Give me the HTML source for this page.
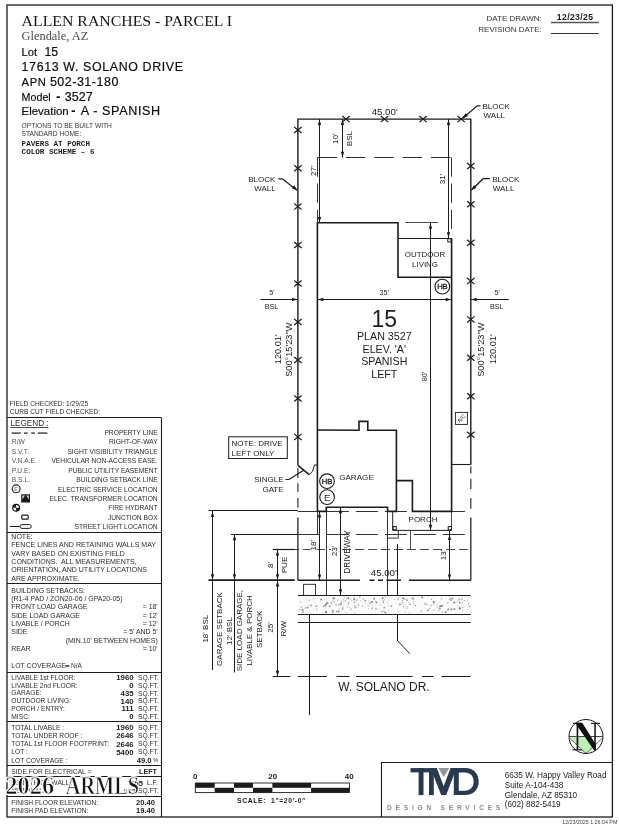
<!DOCTYPE html>
<html><head><meta charset="utf-8"><title>Plot Plan</title>
<style>
html,body{margin:0;padding:0;background:#fff;}
body{width:619px;height:824px;overflow:hidden;}
svg{display:block;will-change:transform;filter:blur(0.35px);}
text{font-family:"Liberation Sans",sans-serif;fill:#1c1c1c;}
</style></head><body>
<svg width="619" height="824" viewBox="0 0 619 824">
<rect x="7" y="5" width="605.4" height="812" fill="none" stroke="#1c1c1c" stroke-width="1.3"/>
<text x="21.6" y="26.00" font-size="15.6" style="font-family:Liberation Serif;fill:#161616;" textLength="210.5" lengthAdjust="spacingAndGlyphs">ALLEN RANCHES - PARCEL I</text>
<text x="21.6" y="40.40" font-size="12.4" style="font-family:Liberation Serif;fill:#4a4a4a;">Glendale, AZ</text>
<text x="21.6" y="55.6" font-size="11.2" style="fill:#0c0c0c;stroke:#0c0c0c;stroke-width:0.18px">Lot <tspan x="44.4" font-size="12.2">15</tspan></text>
<text x="21.6" y="71.1" font-size="12.4" letter-spacing="0.63" style="fill:#0c0c0c;stroke:#0c0c0c;stroke-width:0.18px">17613 W. SOLANO DRIVE</text>
<text x="21.6" y="85.6" font-size="11.2" letter-spacing="0.6" style="fill:#0c0c0c;stroke:#0c0c0c;stroke-width:0.18px">APN <tspan x="49.9" font-size="12.5" letter-spacing="0.5">502-31-180</tspan></text>
<text x="21.6" y="100.5" font-size="10.7"  style="fill:#0c0c0c;stroke:#0c0c0c;stroke-width:0.18px">Model<tspan x="56.2" font-weight="bold" font-size="12.6">-</tspan><tspan x="64.8" font-size="12.5">3527</tspan></text>
<text x="21.6" y="115.2" font-size="11.45" style="fill:#0c0c0c;stroke:#0c0c0c;stroke-width:0.18px">Elevation<tspan x="71.3" font-weight="bold" font-size="12.6">-</tspan><tspan x="80.7" font-size="12.6" letter-spacing="0.62">A - SPANISH</tspan></text>
<text x="21.6" y="127.78" font-size="6.65" style="fill:#333;">OPTIONS TO BE BUILT WITH</text>
<text x="21.6" y="136.38" font-size="6.65" style="fill:#333;">STANDARD HOME:</text>
<text x="21.6" y="145.62" font-size="7.6" font-weight="bold" style="font-family:Liberation Mono;">PAVERS AT PORCH</text>
<text x="21.6" y="153.92" font-size="7.6" font-weight="bold" style="font-family:Liberation Mono;">COLOR SCHEME – 6</text>
<text x="541.7" y="20.86" font-size="8" text-anchor="end" style="fill:#333;">DATE DRAWN:</text>
<text x="541.7" y="32.36" font-size="8" text-anchor="end" style="fill:#333;">REVISION DATE:</text>
<text x="556.8" y="20.41" font-size="8.7" font-weight="bold" textLength="36.2" lengthAdjust="spacing">12/23/25</text>
<line x1="551" y1="22.5" x2="598.8" y2="22.5" stroke="#555" stroke-width="1.3"/>
<line x1="551" y1="33.5" x2="598.8" y2="33.5" stroke="#1c1c1c" stroke-width="0.9"/>
<line x1="161.5" y1="417.5" x2="161.5" y2="817" stroke="#1c1c1c" stroke-width="1.1"/>
<line x1="7" y1="417.5" x2="161.2" y2="417.5" stroke="#1c1c1c" stroke-width="1.1"/>
<line x1="7" y1="532.5" x2="161.2" y2="532.5" stroke="#1c1c1c" stroke-width="1.1"/>
<line x1="7" y1="583.5" x2="161.2" y2="583.5" stroke="#1c1c1c" stroke-width="1.1"/>
<line x1="7" y1="672.5" x2="161.2" y2="672.5" stroke="#1c1c1c" stroke-width="1.1"/>
<line x1="7" y1="721.5" x2="161.2" y2="721.5" stroke="#1c1c1c" stroke-width="1.1"/>
<line x1="7" y1="765.5" x2="161.2" y2="765.5" stroke="#1c1c1c" stroke-width="1.1"/>
<line x1="7" y1="776.5" x2="161.2" y2="776.5" stroke="#1c1c1c" stroke-width="1.1"/>
<line x1="7" y1="796.5" x2="161.2" y2="796.5" stroke="#1c1c1c" stroke-width="1.1"/>
<text x="9.7" y="406.26" font-size="6.6" style="fill:#2e2e2e;">FIELD CHECKED: 1/29/25</text>
<text x="9.7" y="413.96" font-size="6.6" style="fill:#2e2e2e;">CURB CUT FIELD CHECKED:</text>
<text x="10.4" y="426.00" font-size="8.2" style="fill:#2e2e2e;">LEGEND :</text>
<line x1="10.4" y1="427.5" x2="48.4" y2="427.5" stroke="#1c1c1c" stroke-width="0.8"/>
<text x="157.7" y="434.70" font-size="6.7" text-anchor="end" style="fill:#2e2e2e;">PROPERTY LINE</text>
<text x="11.8" y="444.10" font-size="6.7" style="fill:#555;">R/W</text>
<text x="157.7" y="444.10" font-size="6.7" text-anchor="end" style="fill:#2e2e2e;">RIGHT-OF-WAY</text>
<text x="11.8" y="453.50" font-size="6.7" style="fill:#555;">S.V.T.</text>
<text x="157.7" y="453.50" font-size="6.7" text-anchor="end" style="fill:#2e2e2e;">SIGHT VISIBILITY TRIANGLE</text>
<text x="11.8" y="462.90" font-size="6.7" style="fill:#555;">V.N.A.E.</text>
<text x="157.7" y="462.90" font-size="6.7" text-anchor="end" style="fill:#2e2e2e;">VEHICULAR NON-ACCESS EASE.</text>
<text x="11.8" y="472.50" font-size="6.7" style="fill:#555;">P.U.E.</text>
<text x="157.7" y="472.50" font-size="6.7" text-anchor="end" style="fill:#2e2e2e;">PUBLIC UTILITY EASEMENT</text>
<text x="11.8" y="481.90" font-size="6.7" style="fill:#555;">B.S.L.</text>
<text x="157.7" y="481.90" font-size="6.7" text-anchor="end" style="fill:#2e2e2e;">BUILDING SETBACK LINE</text>
<text x="157.7" y="491.50" font-size="6.7" text-anchor="end" style="fill:#2e2e2e;">ELECTRIC SERVICE LOCATION</text>
<text x="157.7" y="501.00" font-size="6.7" text-anchor="end" style="fill:#2e2e2e;">ELEC. TRANSFORMER LOCATION</text>
<text x="157.7" y="510.30" font-size="6.7" text-anchor="end" style="fill:#2e2e2e;">FIRE HYDRANT</text>
<text x="157.7" y="519.70" font-size="6.7" text-anchor="end" style="fill:#2e2e2e;">JUNCTION BOX</text>
<text x="157.7" y="529.40" font-size="6.7" text-anchor="end" style="fill:#2e2e2e;">STREET LIGHT LOCATION</text>
<line x1="11.6" y1="433.1" x2="20.7" y2="433.1" stroke="#444" stroke-width="1.5"/>
<line x1="23.9" y1="433.1" x2="27.6" y2="433.1" stroke="#444" stroke-width="1.5"/>
<line x1="31.2" y1="433.1" x2="34.9" y2="433.1" stroke="#444" stroke-width="1.5"/>
<line x1="37.8" y1="433.1" x2="47.3" y2="433.1" stroke="#444" stroke-width="1.5"/>
<circle cx="16.1" cy="488.8" r="3.9" fill="none" stroke="#1c1c1c" stroke-width="1.1"/>
<text x="16.1" y="490.76" font-size="5.2" text-anchor="middle" font-weight="bold" style="fill:#888;">E</text>
<rect x="21.2" y="494.3" width="8.8" height="8.2" fill="#1c1c1c"/>
<path d="M22.4 495.4 H24.9 L22.4 499.4 Z M28.8 495.4 H26.3 L28.8 499.4 Z" fill="#ddd"/>
<circle cx="16.1" cy="507.8" r="3.4" fill="#fff" stroke="#1c1c1c" stroke-width="1.1"/>
<path d="M16.1 507.8 L16.1 504.4 A3.4 3.4 0 0 0 12.7 507.8 Z M16.1 507.8 L16.1 511.2 A3.4 3.4 0 0 0 19.5 507.8 Z" fill="#1c1c1c"/>
<rect x="21.8" y="515.2" width="6.4" height="4" rx="1" fill="none" stroke="#1c1c1c" stroke-width="1.2"/>
<line x1="9.9" y1="526.5" x2="19.6" y2="526.5" stroke="#1c1c1c" stroke-width="1.0"/>
<rect x="19.9" y="524.6" width="11.4" height="3.8" rx="1.9" fill="none" stroke="#1c1c1c" stroke-width="1.0"/>
<text x="11.3" y="538.92" font-size="7.05" style="fill:#2e2e2e;" xml:space="preserve">NOTE:</text>
<text x="11.3" y="547.32" font-size="7.05" style="fill:#2e2e2e;" xml:space="preserve">FENCE LINES AND RETAINING WALLS MAY</text>
<text x="11.3" y="555.72" font-size="7.05" style="fill:#2e2e2e;" xml:space="preserve">VARY BASED ON EXISTING FIELD</text>
<text x="11.3" y="563.82" font-size="7.05" style="fill:#2e2e2e;" xml:space="preserve">CONDITIONS.  ALL MEASUREMENTS,</text>
<text x="11.3" y="572.12" font-size="7.05" style="fill:#2e2e2e;" xml:space="preserve">ORIENTATION, AND UTILITY LOCATIONS</text>
<text x="11.3" y="580.52" font-size="7.05" style="fill:#2e2e2e;" xml:space="preserve">ARE APPROXIMATE.</text>
<text x="11.3" y="592.79" font-size="6.95" style="fill:#2e2e2e;">BUILDING SETBACKS:</text>
<text x="11.3" y="601.19" font-size="6.95" style="fill:#2e2e2e;">(R1-4 PAD / ZON20-06 / GPA20-05)</text>
<text x="11.3" y="609.29" font-size="6.95" style="fill:#2e2e2e;">FRONT LOAD GARAGE</text>
<text x="157.7" y="609.29" font-size="6.95" text-anchor="end" style="fill:#2e2e2e;">= 18'</text>
<text x="11.3" y="617.69" font-size="6.95" style="fill:#2e2e2e;">SIDE LOAD GARAGE</text>
<text x="157.7" y="617.69" font-size="6.95" text-anchor="end" style="fill:#2e2e2e;">= 12'</text>
<text x="11.3" y="626.09" font-size="6.95" style="fill:#2e2e2e;">LIVABLE / PORCH</text>
<text x="157.7" y="626.09" font-size="6.95" text-anchor="end" style="fill:#2e2e2e;">= 12'</text>
<text x="11.3" y="634.49" font-size="6.95" style="fill:#2e2e2e;">SIDE</text>
<text x="157.7" y="634.49" font-size="6.95" text-anchor="end" style="fill:#2e2e2e;">= 5' AND 5'</text>
<text x="157.7" y="642.89" font-size="6.95" text-anchor="end" style="fill:#2e2e2e;">(MIN.10' BETWEEN HOMES)</text>
<text x="11.3" y="651.29" font-size="6.95" style="fill:#2e2e2e;">REAR</text>
<text x="157.7" y="651.29" font-size="6.95" text-anchor="end" style="fill:#2e2e2e;">= 10'</text>
<text x="11.3" y="668.49" font-size="6.95" style="fill:#2e2e2e;">LOT COVERAGE</text>
<rect x="65.4" y="665.3" width="4" height="1.4" fill="#222"/>
<text x="71" y="668.36" font-size="6.6" style="fill:#2e2e2e;">N/A</text>
<text x="11.3" y="679.69" font-size="6.68" style="fill:#2e2e2e;">LIVABLE 1st FLOOR:</text>
<text x="133.6" y="680.09" font-size="7.8" text-anchor="end" font-weight="bold">1960</text>
<text x="138" y="679.70" font-size="6.7" style="fill:#2e2e2e;">SQ.FT.</text>
<text x="11.3" y="687.69" font-size="6.68" style="fill:#2e2e2e;">LIVABLE 2nd FLOOR:</text>
<text x="133.6" y="688.09" font-size="7.8" text-anchor="end" font-weight="bold">0</text>
<text x="138" y="687.70" font-size="6.7" style="fill:#2e2e2e;">SQ.FT.</text>
<text x="11.3" y="695.49" font-size="6.68" style="fill:#2e2e2e;">GARAGE:</text>
<text x="133.6" y="695.89" font-size="7.8" text-anchor="end" font-weight="bold">435</text>
<text x="138" y="695.50" font-size="6.7" style="fill:#2e2e2e;">SQ.FT.</text>
<text x="11.3" y="703.19" font-size="6.68" style="fill:#2e2e2e;">OUTDOOR LIVING:</text>
<text x="133.6" y="703.59" font-size="7.8" text-anchor="end" font-weight="bold">140</text>
<text x="138" y="703.20" font-size="6.7" style="fill:#2e2e2e;">SQ.FT.</text>
<text x="11.3" y="710.99" font-size="6.68" style="fill:#2e2e2e;">PORCH / ENTRY:</text>
<text x="133.6" y="711.39" font-size="7.8" text-anchor="end" font-weight="bold">111</text>
<text x="138" y="711.00" font-size="6.7" style="fill:#2e2e2e;">SQ.FT.</text>
<text x="11.3" y="718.69" font-size="6.68" style="fill:#2e2e2e;">MISC:</text>
<text x="133.6" y="719.09" font-size="7.8" text-anchor="end" font-weight="bold">0</text>
<text x="138" y="718.70" font-size="6.7" style="fill:#2e2e2e;">SQ.FT.</text>
<text x="11.3" y="729.69" font-size="6.68" style="fill:#2e2e2e;">TOTAL LIVABLE :</text>
<text x="133.6" y="730.09" font-size="7.8" text-anchor="end" font-weight="bold">1960</text>
<text x="138" y="729.70" font-size="6.7" style="fill:#2e2e2e;">SQ.FT.</text>
<text x="11.3" y="737.79" font-size="6.68" style="fill:#2e2e2e;">TOTAL UNDER ROOF :</text>
<text x="133.6" y="738.19" font-size="7.8" text-anchor="end" font-weight="bold">2646</text>
<text x="138" y="737.80" font-size="6.7" style="fill:#2e2e2e;">SQ.FT.</text>
<text x="11.3" y="746.19" font-size="6.68" style="fill:#2e2e2e;">TOTAL 1st FLOOR FOOTPRINT:</text>
<text x="133.6" y="746.59" font-size="7.8" text-anchor="end" font-weight="bold">2646</text>
<text x="138" y="746.20" font-size="6.7" style="fill:#2e2e2e;">SQ.FT.</text>
<text x="11.3" y="754.29" font-size="6.68" style="fill:#2e2e2e;">LOT :</text>
<text x="133.6" y="754.69" font-size="7.8" text-anchor="end" font-weight="bold">5400</text>
<text x="138" y="754.30" font-size="6.7" style="fill:#2e2e2e;">SQ.FT.</text>
<text x="11.3" y="762.69" font-size="6.68" style="fill:#2e2e2e;">LOT COVERAGE :</text>
<text x="151.5" y="763.02" font-size="7.6" text-anchor="end" font-weight="bold">49.0</text>
<text x="153.2" y="762.27" font-size="5.5" style="fill:#2e2e2e;">%</text>
<text x="11.3" y="773.99" font-size="6.68" style="fill:#2e2e2e;">SIDE FOR ELECTRICAL =</text>
<text x="157" y="774.18" font-size="7.2" text-anchor="end" font-weight="bold">LEFT</text>
<text x="11.3" y="785.29" font-size="6.68" style="fill:#2e2e2e;">LENGTH OF WALL :</text>
<text x="143" y="785.62" font-size="7.6" text-anchor="end" font-weight="bold">255</text>
<text x="147" y="785.30" font-size="6.7" style="fill:#2e2e2e;">L.F.</text>
<text x="11.3" y="793.39" font-size="6.68" style="fill:#2e2e2e;">NEW WALL :</text>
<text x="136" y="793.72" font-size="7.6" text-anchor="end" font-weight="bold">382</text>
<text x="138" y="793.40" font-size="6.7" style="fill:#2e2e2e;">SQ.FT.</text>
<text x="11.3" y="804.69" font-size="6.68" style="fill:#2e2e2e;">FINISH FLOOR ELEVATION:</text>
<text x="155" y="805.02" font-size="7.6" text-anchor="end" font-weight="bold">20.40</text>
<text x="11.3" y="812.79" font-size="6.68" style="fill:#2e2e2e;">FINISH PAD ELEVATION:</text>
<text x="155" y="813.12" font-size="7.6" text-anchor="end" font-weight="bold">19.40</text>
<path d="M297.9 465.3 L297.9 119.1 L470.8 119.1 L470.8 464.4" stroke="#1c1c1c" stroke-width="1.4" fill="none" stroke-linejoin="miter"/>
<line x1="297.9" y1="468.2" x2="297.9" y2="477.9" stroke="#444" stroke-width="1.31"/>
<line x1="297.9" y1="483.2" x2="297.9" y2="492" stroke="#444" stroke-width="1.31"/>
<line x1="297.9" y1="498.1" x2="297.9" y2="507.8" stroke="#444" stroke-width="1.31"/>
<line x1="297.9" y1="517.5" x2="297.9" y2="580.2" stroke="#2a2a2a" stroke-width="1.35"/>
<line x1="470.8" y1="466.4" x2="470.8" y2="473.5" stroke="#444" stroke-width="1.31"/>
<line x1="470.8" y1="478.8" x2="470.8" y2="489.3" stroke="#444" stroke-width="1.31"/>
<line x1="470.8" y1="498.1" x2="470.8" y2="508.7" stroke="#444" stroke-width="1.31"/>
<line x1="470.8" y1="517.5" x2="470.8" y2="580.2" stroke="#2a2a2a" stroke-width="1.35"/>
<line x1="297.9" y1="580.2" x2="360" y2="580.2" stroke="#1c1c1c" stroke-width="1.35"/>
<line x1="369.5" y1="580.2" x2="401" y2="580.2" stroke="#1c1c1c" stroke-width="1.35" stroke-dasharray="5 3.5 5 3.5 30 0"/>
<line x1="409" y1="580.2" x2="470.8" y2="580.2" stroke="#1c1c1c" stroke-width="1.35"/>
<line x1="342.3" y1="116.06599999999999" x2="349.7" y2="122.134" stroke="#1c1c1c" stroke-width="1.25"/>
<line x1="342.3" y1="122.134" x2="349.7" y2="116.06599999999999" stroke="#1c1c1c" stroke-width="1.25"/>
<line x1="380.8" y1="116.06599999999999" x2="388.2" y2="122.134" stroke="#1c1c1c" stroke-width="1.25"/>
<line x1="380.8" y1="122.134" x2="388.2" y2="116.06599999999999" stroke="#1c1c1c" stroke-width="1.25"/>
<line x1="419.3" y1="116.06599999999999" x2="426.7" y2="122.134" stroke="#1c1c1c" stroke-width="1.25"/>
<line x1="419.3" y1="122.134" x2="426.7" y2="116.06599999999999" stroke="#1c1c1c" stroke-width="1.25"/>
<line x1="457.5" y1="116.06599999999999" x2="464.9" y2="122.134" stroke="#1c1c1c" stroke-width="1.25"/>
<line x1="457.5" y1="122.134" x2="464.9" y2="116.06599999999999" stroke="#1c1c1c" stroke-width="1.25"/>
<line x1="294.2" y1="126.966" x2="301.59999999999997" y2="133.034" stroke="#1c1c1c" stroke-width="1.25"/>
<line x1="294.2" y1="133.034" x2="301.59999999999997" y2="126.966" stroke="#1c1c1c" stroke-width="1.25"/>
<line x1="294.2" y1="165.26600000000002" x2="301.59999999999997" y2="171.334" stroke="#1c1c1c" stroke-width="1.25"/>
<line x1="294.2" y1="171.334" x2="301.59999999999997" y2="165.26600000000002" stroke="#1c1c1c" stroke-width="1.25"/>
<line x1="294.2" y1="203.566" x2="301.59999999999997" y2="209.634" stroke="#1c1c1c" stroke-width="1.25"/>
<line x1="294.2" y1="209.634" x2="301.59999999999997" y2="203.566" stroke="#1c1c1c" stroke-width="1.25"/>
<line x1="294.2" y1="241.966" x2="301.59999999999997" y2="248.034" stroke="#1c1c1c" stroke-width="1.25"/>
<line x1="294.2" y1="248.034" x2="301.59999999999997" y2="241.966" stroke="#1c1c1c" stroke-width="1.25"/>
<line x1="294.2" y1="280.466" x2="301.59999999999997" y2="286.534" stroke="#1c1c1c" stroke-width="1.25"/>
<line x1="294.2" y1="286.534" x2="301.59999999999997" y2="280.466" stroke="#1c1c1c" stroke-width="1.25"/>
<line x1="294.2" y1="318.966" x2="301.59999999999997" y2="325.034" stroke="#1c1c1c" stroke-width="1.25"/>
<line x1="294.2" y1="325.034" x2="301.59999999999997" y2="318.966" stroke="#1c1c1c" stroke-width="1.25"/>
<line x1="294.2" y1="356.966" x2="301.59999999999997" y2="363.034" stroke="#1c1c1c" stroke-width="1.25"/>
<line x1="294.2" y1="363.034" x2="301.59999999999997" y2="356.966" stroke="#1c1c1c" stroke-width="1.25"/>
<line x1="294.2" y1="395.466" x2="301.59999999999997" y2="401.534" stroke="#1c1c1c" stroke-width="1.25"/>
<line x1="294.2" y1="401.534" x2="301.59999999999997" y2="395.466" stroke="#1c1c1c" stroke-width="1.25"/>
<line x1="294.2" y1="433.866" x2="301.59999999999997" y2="439.93399999999997" stroke="#1c1c1c" stroke-width="1.25"/>
<line x1="294.2" y1="439.93399999999997" x2="301.59999999999997" y2="433.866" stroke="#1c1c1c" stroke-width="1.25"/>
<line x1="467.1" y1="162.966" x2="474.5" y2="169.034" stroke="#1c1c1c" stroke-width="1.25"/>
<line x1="467.1" y1="169.034" x2="474.5" y2="162.966" stroke="#1c1c1c" stroke-width="1.25"/>
<line x1="467.1" y1="201.26600000000002" x2="474.5" y2="207.334" stroke="#1c1c1c" stroke-width="1.25"/>
<line x1="467.1" y1="207.334" x2="474.5" y2="201.26600000000002" stroke="#1c1c1c" stroke-width="1.25"/>
<line x1="467.1" y1="239.76600000000002" x2="474.5" y2="245.834" stroke="#1c1c1c" stroke-width="1.25"/>
<line x1="467.1" y1="245.834" x2="474.5" y2="239.76600000000002" stroke="#1c1c1c" stroke-width="1.25"/>
<line x1="467.1" y1="278.06600000000003" x2="474.5" y2="284.134" stroke="#1c1c1c" stroke-width="1.25"/>
<line x1="467.1" y1="284.134" x2="474.5" y2="278.06600000000003" stroke="#1c1c1c" stroke-width="1.25"/>
<line x1="467.1" y1="316.366" x2="474.5" y2="322.43399999999997" stroke="#1c1c1c" stroke-width="1.25"/>
<line x1="467.1" y1="322.43399999999997" x2="474.5" y2="316.366" stroke="#1c1c1c" stroke-width="1.25"/>
<line x1="467.1" y1="354.666" x2="474.5" y2="360.734" stroke="#1c1c1c" stroke-width="1.25"/>
<line x1="467.1" y1="360.734" x2="474.5" y2="354.666" stroke="#1c1c1c" stroke-width="1.25"/>
<line x1="467.1" y1="393.166" x2="474.5" y2="399.234" stroke="#1c1c1c" stroke-width="1.25"/>
<line x1="467.1" y1="399.234" x2="474.5" y2="393.166" stroke="#1c1c1c" stroke-width="1.25"/>
<line x1="467.1" y1="431.766" x2="474.5" y2="437.834" stroke="#1c1c1c" stroke-width="1.25"/>
<line x1="467.1" y1="437.834" x2="474.5" y2="431.766" stroke="#1c1c1c" stroke-width="1.25"/>
<line x1="317.4" y1="157.5" x2="451.6" y2="157.5" stroke="#1c1c1c" stroke-width="0.9" stroke-dasharray="19.6 8.8"/>
<line x1="317.5" y1="157.5" x2="317.5" y2="222" stroke="#1c1c1c" stroke-width="0.9" stroke-dasharray="19.3 6.8"/>
<line x1="451.5" y1="157.5" x2="451.5" y2="230.6" stroke="#1c1c1c" stroke-width="0.9" stroke-dasharray="19.3 6.8"/>
<line x1="317.5" y1="511.5" x2="317.5" y2="534" stroke="#1c1c1c" stroke-width="0.9"/>
<path d="M317.4 511.4 L317.4 222.8 L398 222.8 L398 238.3 M451.6 238.3 L451.6 511.4 L412.4 511.4 L412.4 480.6 L396.4 480.6" stroke="#1c1c1c" stroke-width="1.6" fill="none" stroke-linejoin="miter"/>
<path d="M398 238.3 L398 277.2 L451.6 277.2" stroke="#1c1c1c" stroke-width="1.6" fill="none" stroke-linejoin="miter"/>
<line x1="398" y1="238.5" x2="451.6" y2="238.5" stroke="#1c1c1c" stroke-width="1.0"/>
<path d="M317.4 430 L359 430.2 L359 421.4 L367.8 421.4 L367.8 430.2 L396.4 430.2 L396.4 511.4 L387.6 511.4 L387.6 507.2 L326.3 507.2 L326.3 511.4 L317.4 511.4" stroke="#1c1c1c" stroke-width="1.6" fill="none" stroke-linejoin="miter"/>
<line x1="451.6" y1="464.5" x2="470.8" y2="464.5" stroke="#1c1c1c" stroke-width="1.1"/>
<rect x="447.79999999999995" y="238.70000000000002" width="3.2" height="3.2" fill="#fff" stroke="#1c1c1c" stroke-width="1"/>
<rect x="393.09999999999997" y="526.6" width="3.2" height="3.2" fill="#fff" stroke="#1c1c1c" stroke-width="1"/>
<rect x="448.2" y="526.6" width="3.2" height="3.2" fill="#fff" stroke="#1c1c1c" stroke-width="1"/>
<path d="M392.7 511.4 L392.7 530.4 L451.6 530.4" stroke="#1c1c1c" stroke-width="1.0" fill="none" stroke-linejoin="miter"/>
<line x1="451.5" y1="511.4" x2="451.5" y2="530.4" stroke="#1c1c1c" stroke-width="0.8"/>
<path d="M398.3 530.4 L398.3 538.1 L387.8 538.1" stroke="#333" stroke-width="1.0" fill="none" stroke-linejoin="miter"/>
<line x1="410.5" y1="530.4" x2="410.5" y2="549.2" stroke="#1c1c1c" stroke-width="0.8"/>
<line x1="397.5" y1="544" x2="397.5" y2="641" stroke="#1c1c1c" stroke-width="1.0"/>
<line x1="397.8" y1="641" x2="409.8" y2="653.7" stroke="#1c1c1c" stroke-width="1.0"/>
<line x1="326.5" y1="507.2" x2="326.5" y2="595" stroke="#1c1c1c" stroke-width="0.9"/>
<line x1="387.5" y1="511.4" x2="387.5" y2="595" stroke="#1c1c1c" stroke-width="0.9"/>
<line x1="297.9" y1="511.5" x2="470.8" y2="511.5" stroke="#1c1c1c" stroke-width="0.9" stroke-dasharray="22 7"/>
<line x1="297.9" y1="534.5" x2="470.8" y2="534.5" stroke="#1c1c1c" stroke-width="0.9" stroke-dasharray="22 7"/>
<line x1="277" y1="549.5" x2="470.8" y2="549.5" stroke="#1c1c1c" stroke-width="0.8" stroke-dasharray="9 4"/>
<path d="M297.9 465.3 L309.2 474.6" stroke="#1c1c1c" stroke-width="1.5" fill="none" stroke-linejoin="miter"/>
<path d="M309.2 474.6 Q313.5 472 314 466.5 L314.3 465 L317.4 465" stroke="#1c1c1c" stroke-width="1.0" fill="none" stroke-linejoin="miter"/>
<rect x="455.4" y="412.4" width="12" height="12" fill="#fff" stroke="#1c1c1c" stroke-width="0.9"/>
<text transform="translate(461.4 418.4) rotate(-45)" x="0" y="2.00" font-size="5.6" text-anchor="middle" style="fill:#2a2a2a;">A/C</text>
<circle cx="442.3" cy="286.6" r="7.35" fill="#fff" stroke="#1c1c1c" stroke-width="1.1"/>
<text x="442.3" y="289.36" font-size="7.7" text-anchor="middle" letter-spacing="-0.2" stroke="#1c1c1c" stroke-width="0.3">HB</text>
<circle cx="327" cy="481.2" r="7.35" fill="#fff" stroke="#1c1c1c" stroke-width="1.1"/>
<text x="327" y="483.96" font-size="7.7" text-anchor="middle" letter-spacing="-0.2" stroke="#1c1c1c" stroke-width="0.3">HB</text>
<circle cx="327.1" cy="497.1" r="7.35" fill="#fff" stroke="#1c1c1c" stroke-width="1.1"/>
<text x="327.1" y="500.50" font-size="9.5" text-anchor="middle">E</text>
<line x1="405.3" y1="222.5" x2="438.1" y2="222.5" stroke="#1c1c1c" stroke-width="0.8"/>
<text x="384.7" y="115.47" font-size="9.7" text-anchor="middle">45.00'</text>
<line x1="342.5" y1="119.1" x2="342.5" y2="157.5" stroke="#1c1c1c" stroke-width="1.0"/>
<polygon points="342.5,119.7 340.8,125.1 344.2,125.1" fill="#1c1c1c"/>
<polygon points="342.5,157.2 340.8,151.8 344.2,151.8" fill="#1c1c1c"/>
<text transform="translate(335.3 138.6) rotate(-90)" x="0" y="2.90" font-size="8.1" text-anchor="middle">10'</text>
<text transform="translate(348.9 138.6) rotate(-90)" x="0" y="2.90" font-size="8.1" text-anchor="middle">BSL</text>
<line x1="319.5" y1="119.1" x2="319.5" y2="222.8" stroke="#1c1c1c" stroke-width="1.0"/>
<polygon points="319.5,119.7 317.8,125.1 321.2,125.1" fill="#1c1c1c"/>
<polygon points="319.5,222.4 317.8,217.0 321.2,217.0" fill="#1c1c1c"/>
<text transform="translate(313.3 170.8) rotate(-90)" x="0" y="2.90" font-size="8.1" text-anchor="middle">27'</text>
<line x1="448.5" y1="119.1" x2="448.5" y2="238" stroke="#1c1c1c" stroke-width="1.0"/>
<polygon points="448.5,119.7 446.8,125.1 450.2,125.1" fill="#1c1c1c"/>
<polygon points="448.5,237.6 446.8,232.2 450.2,232.2" fill="#1c1c1c"/>
<text transform="translate(441.8 179) rotate(-90)" x="0" y="2.90" font-size="8.1" text-anchor="middle">31'</text>
<line x1="317.4" y1="299.5" x2="451.6" y2="299.5" stroke="#1c1c1c" stroke-width="1.0"/>
<polygon points="317.9,299.5 323.3,297.8 323.3,301.2" fill="#1c1c1c"/>
<polygon points="451.1,299.5 445.7,297.8 445.7,301.2" fill="#1c1c1c"/>
<text x="384.3" y="295.38" font-size="7.2" text-anchor="middle">35'</text>
<line x1="260.4" y1="299.5" x2="297.9" y2="299.5" stroke="#1c1c1c" stroke-width="1.0"/>
<polygon points="297.4,299.5 292.0,297.8 292.0,301.2" fill="#1c1c1c"/>
<text x="272" y="294.98" font-size="7.2" text-anchor="middle">5'</text>
<text x="271.5" y="308.78" font-size="7.2" text-anchor="middle">BSL</text>
<line x1="470.8" y1="299.5" x2="508.8" y2="299.5" stroke="#1c1c1c" stroke-width="1.0"/>
<polygon points="471.3,299.5 476.7,297.8 476.7,301.2" fill="#1c1c1c"/>
<text x="497.2" y="294.98" font-size="7.2" text-anchor="middle">5'</text>
<text x="496.8" y="308.78" font-size="7.2" text-anchor="middle">BSL</text>
<text transform="translate(278.2 349.3) rotate(-90)" x="0" y="3.29" font-size="9.2" text-anchor="middle">120.01'</text>
<text transform="translate(288.9 349.7) rotate(-90)" x="0" y="3.29" font-size="9.2" text-anchor="middle">S00°15'23"W</text>
<text transform="translate(481.1 349.7) rotate(-90)" x="0" y="3.29" font-size="9.2" text-anchor="middle">S00°15'23"W</text>
<text transform="translate(492.3 349.3) rotate(-90)" x="0" y="3.29" font-size="9.2" text-anchor="middle">120.01'</text>
<line x1="430.5" y1="222.8" x2="430.5" y2="530.2" stroke="#1c1c1c" stroke-width="1.0"/>
<polygon points="430.5,223.3 428.8,228.7 432.2,228.7" fill="#1c1c1c"/>
<polygon points="430.5,530.2 428.8,524.8 432.2,524.8" fill="#1c1c1c"/>
<text transform="translate(424.4 376.5) rotate(-90)" x="0" y="2.58" font-size="7.2" text-anchor="middle">80'</text>
<text x="384.3" y="326.63" font-size="23" text-anchor="middle">15</text>
<text x="384.3" y="339.63" font-size="10.7" text-anchor="middle">PLAN 3527</text>
<text x="384.3" y="352.73" font-size="10.7" text-anchor="middle">ELEV. 'A'</text>
<text x="384.3" y="365.33" font-size="10.7" text-anchor="middle">SPANISH</text>
<text x="384.3" y="378.33" font-size="10.7" text-anchor="middle">LEFT</text>
<text x="425" y="257.03" font-size="7.9" text-anchor="middle">OUTDOOR</text>
<text x="425" y="266.63" font-size="7.9" text-anchor="middle">LIVING</text>
<text x="356.5" y="479.80" font-size="8.1" text-anchor="middle">GARAGE</text>
<text x="423" y="521.56" font-size="8" text-anchor="middle">PORCH</text>
<line x1="319.5" y1="511.4" x2="319.5" y2="580.2" stroke="#1c1c1c" stroke-width="1.0"/>
<polygon points="319.5,512.0 317.8,517.4 321.2,517.4" fill="#1c1c1c"/>
<polygon points="319.5,579.8 317.8,574.4 321.2,574.4" fill="#1c1c1c"/>
<text transform="translate(312.7 545.3) rotate(-90)" x="0" y="2.90" font-size="8.1" text-anchor="middle" stroke="#fff" stroke-width="1.6" paint-order="stroke">18'</text>
<line x1="340.5" y1="507.2" x2="340.5" y2="595" stroke="#1c1c1c" stroke-width="1.0"/>
<polygon points="340.5,507.8 338.8,513.2 342.2,513.2" fill="#1c1c1c"/>
<polygon points="340.5,594.6 338.8,589.2 342.2,589.2" fill="#1c1c1c"/>
<text transform="translate(334 551) rotate(-90)" x="0" y="2.90" font-size="8.1" text-anchor="middle" stroke="#fff" stroke-width="1.6" paint-order="stroke">23'</text>
<text transform="translate(347.5 552) rotate(-90)" x="0" y="2.97" font-size="8.3" text-anchor="middle">DRIVEWAY</text>
<line x1="449.5" y1="531" x2="449.5" y2="580.2" stroke="#1c1c1c" stroke-width="1.0"/>
<polygon points="449.5,534.6 447.8,540.0 451.2,540.0" fill="#1c1c1c"/>
<polygon points="449.5,579.8 447.8,574.4 451.2,574.4" fill="#1c1c1c"/>
<text transform="translate(443 555) rotate(-90)" x="0" y="2.90" font-size="8.1" text-anchor="middle">13'</text>
<text x="383.8" y="575.87" font-size="9.7" text-anchor="middle">45.00'</text>
<text x="482.5" y="108.66" font-size="8">BLOCK</text>
<text x="494.3" y="118.06" font-size="8" text-anchor="middle">WALL</text>
<path d="M480.5 105.8 L477.2 105.8 L463 118" stroke="#1c1c1c" stroke-width="1.25" fill="none" stroke-linejoin="miter"/>
<polygon points="462.3,118.6 465.6,113.2 468.1,116.1" fill="#1c1c1c"/>
<text x="492.2" y="181.56" font-size="8">BLOCK</text>
<text x="503.6" y="190.86" font-size="8" text-anchor="middle">WALL</text>
<path d="M490 178.7 L483.2 178.7 L471.5 190" stroke="#1c1c1c" stroke-width="1.25" fill="none" stroke-linejoin="miter"/>
<polygon points="471.0,190.6 474.0,185.1 476.6,187.8" fill="#1c1c1c"/>
<text x="275.4" y="181.66" font-size="8" text-anchor="end">BLOCK</text>
<text x="265" y="190.86" font-size="8" text-anchor="middle">WALL</text>
<path d="M278.3 178.8 L282.3 178.8 L297 190.2" stroke="#1c1c1c" stroke-width="1.25" fill="none" stroke-linejoin="miter"/>
<polygon points="297.6,190.6 291.8,188.2 294.2,185.3" fill="#1c1c1c"/>
<rect x="228.7" y="436.8" width="58.6" height="21.7" fill="none" stroke="#1c1c1c" stroke-width="1"/>
<text x="231.5" y="445.86" font-size="8">NOTE: DRIVE</text>
<text x="231.5" y="455.66" font-size="8">LEFT ONLY</text>
<text x="283.6" y="482.36" font-size="8" text-anchor="end">SINGLE</text>
<text x="283.6" y="492.06" font-size="8" text-anchor="end">GATE</text>
<path d="M285.5 479.5 L289 479.5 L304 470" stroke="#1c1c1c" stroke-width="1.2" fill="none" stroke-linejoin="miter"/>
<line x1="208.5" y1="510.5" x2="297.9" y2="510.5" stroke="#1c1c1c" stroke-width="1.2"/>
<line x1="208.5" y1="580.2" x2="294.7" y2="580.2" stroke="#1c1c1c" stroke-width="1.8"/>
<line x1="212.5" y1="510.9" x2="212.5" y2="670" stroke="#1c1c1c" stroke-width="1.0"/>
<polygon points="212.5,511.5 210.8,516.9 214.2,516.9" fill="#1c1c1c"/>
<polygon points="212.5,579.6 210.8,574.2 214.2,574.2" fill="#1c1c1c"/>
<text transform="translate(205.3 628.7) rotate(-90)" x="0" y="2.86" font-size="8" text-anchor="middle">18' BSL</text>
<text transform="translate(218.8 629) rotate(-90)" x="0" y="2.86" font-size="8" text-anchor="middle">GARAGE SETBACK</text>
<line x1="230.8" y1="534.5" x2="297.9" y2="534.5" stroke="#1c1c1c" stroke-width="1.2"/>
<line x1="234.5" y1="534.2" x2="234.5" y2="672.5" stroke="#1c1c1c" stroke-width="1.0"/>
<polygon points="234.5,534.8 232.8,540.2 236.2,540.2" fill="#1c1c1c"/>
<polygon points="234.5,579.6 232.8,574.2 236.2,574.2" fill="#1c1c1c"/>
<text transform="translate(229.6 631) rotate(-90)" x="0" y="2.86" font-size="8" text-anchor="middle">12' BSL</text>
<text transform="translate(239.6 630.6) rotate(-90)" x="0" y="2.86" font-size="8" text-anchor="middle">SIDE LOAD GARAGE,</text>
<text transform="translate(249 630.5) rotate(-90)" x="0" y="2.86" font-size="8" text-anchor="middle">LIVABLE &amp; PORCH</text>
<text transform="translate(259 629.3) rotate(-90)" x="0" y="2.86" font-size="8" text-anchor="middle">SETBACK</text>
<line x1="272.9" y1="549.5" x2="294.7" y2="549.5" stroke="#1c1c1c" stroke-width="1.2"/>
<line x1="277.5" y1="549.6" x2="277.5" y2="676.3" stroke="#1c1c1c" stroke-width="1.0"/>
<polygon points="277.5,550.2 275.8,555.6 279.2,555.6" fill="#1c1c1c"/>
<polygon points="277.5,579.6 275.8,574.2 279.2,574.2" fill="#1c1c1c"/>
<polygon points="277.5,581.0 275.8,586.4 279.2,586.4" fill="#1c1c1c"/>
<polygon points="277.5,676.2 275.8,670.8 279.2,670.8" fill="#1c1c1c"/>
<text transform="translate(270.4 565) rotate(-90)" x="0" y="2.90" font-size="8.1" text-anchor="middle">8'</text>
<text transform="translate(283.8 565) rotate(-90)" x="0" y="2.90" font-size="8.1" text-anchor="middle">PUE</text>
<text transform="translate(270 627.5) rotate(-90)" x="0" y="2.90" font-size="8.1" text-anchor="middle">25'</text>
<text transform="translate(283.1 628.7) rotate(-90)" x="0" y="2.90" font-size="8.1" text-anchor="middle">R/W</text>
<rect x="303.6" y="584.3" width="11.9" height="11.1" fill="#fff" stroke="#1c1c1c" stroke-width="0.9"/>
<line x1="309.5" y1="595.4" x2="309.5" y2="715" stroke="#1c1c1c" stroke-width="1.0"/>
<rect x="297.9" y="595.5" width="172.90000000000003" height="18.5" fill="#fbfbfb"/>
<circle cx="354.2" cy="599.4" r="1.1" fill="#888"/>
<circle cx="311.3" cy="605.6" r="0.6" fill="#ccc"/>
<circle cx="308.8" cy="605.1" r="0.4" fill="#888"/>
<circle cx="373.0" cy="598.1" r="0.4" fill="#ccc"/>
<circle cx="371.5" cy="610.2" r="0.4" fill="#aaa"/>
<circle cx="406.7" cy="606.3" r="0.4" fill="#ccc"/>
<circle cx="399.0" cy="597.8" r="0.5" fill="#888"/>
<circle cx="394.0" cy="599.1" r="0.7" fill="#aaa"/>
<circle cx="391.3" cy="606.1" r="0.9" fill="#999"/>
<circle cx="329.8" cy="606.3" r="1.1" fill="#aaa"/>
<circle cx="362.5" cy="605.8" r="0.4" fill="#ccc"/>
<circle cx="309.1" cy="600.3" r="1.1" fill="#ccc"/>
<circle cx="372.0" cy="602.0" r="0.9" fill="#777"/>
<circle cx="360.7" cy="601.0" r="0.5" fill="#999"/>
<circle cx="432.2" cy="598.3" r="0.6" fill="#ccc"/>
<circle cx="383.5" cy="602.5" r="0.7" fill="#bbb"/>
<circle cx="403.0" cy="598.2" r="0.9" fill="#777"/>
<circle cx="327.1" cy="602.5" r="0.7" fill="#777"/>
<circle cx="305.6" cy="607.7" r="0.9" fill="#ccc"/>
<circle cx="433.8" cy="610.1" r="0.6" fill="#999"/>
<circle cx="358.7" cy="604.9" r="0.7" fill="#888"/>
<circle cx="442.5" cy="612.1" r="0.7" fill="#999"/>
<circle cx="412.4" cy="598.0" r="1.1" fill="#bbb"/>
<circle cx="409.5" cy="612.9" r="0.7" fill="#bbb"/>
<circle cx="421.4" cy="611.2" r="0.6" fill="#888"/>
<circle cx="459.7" cy="602.7" r="0.9" fill="#888"/>
<circle cx="383.3" cy="600.5" r="0.6" fill="#aaa"/>
<circle cx="425.1" cy="603.4" r="0.7" fill="#888"/>
<circle cx="327.3" cy="603.4" r="0.6" fill="#aaa"/>
<circle cx="438.9" cy="610.8" r="0.6" fill="#999"/>
<circle cx="369.9" cy="602.7" r="0.7" fill="#aaa"/>
<circle cx="324.7" cy="599.8" r="0.5" fill="#999"/>
<circle cx="338.8" cy="604.8" r="0.9" fill="#aaa"/>
<circle cx="343.8" cy="597.1" r="0.7" fill="#ccc"/>
<circle cx="362.0" cy="606.1" r="0.5" fill="#999"/>
<circle cx="445.7" cy="612.2" r="1.1" fill="#999"/>
<circle cx="425.3" cy="604.3" r="1.1" fill="#ccc"/>
<circle cx="366.0" cy="603.4" r="0.4" fill="#777"/>
<circle cx="407.3" cy="598.0" r="0.4" fill="#aaa"/>
<circle cx="374.2" cy="598.8" r="0.9" fill="#888"/>
<circle cx="316.4" cy="606.1" r="0.9" fill="#888"/>
<circle cx="461.1" cy="606.8" r="0.4" fill="#aaa"/>
<circle cx="403.8" cy="599.4" r="0.6" fill="#bbb"/>
<circle cx="401.8" cy="604.6" r="0.4" fill="#777"/>
<circle cx="468.6" cy="604.5" r="0.7" fill="#bbb"/>
<circle cx="313.6" cy="598.6" r="0.6" fill="#999"/>
<circle cx="344.1" cy="610.3" r="0.5" fill="#ccc"/>
<circle cx="302.8" cy="612.2" r="0.9" fill="#bbb"/>
<circle cx="324.0" cy="605.7" r="0.4" fill="#ccc"/>
<circle cx="349.8" cy="607.3" r="0.4" fill="#999"/>
<circle cx="443.4" cy="605.3" r="0.5" fill="#bbb"/>
<circle cx="430.8" cy="605.5" r="0.9" fill="#bbb"/>
<circle cx="407.7" cy="606.8" r="0.5" fill="#aaa"/>
<circle cx="438.8" cy="608.8" r="0.5" fill="#aaa"/>
<circle cx="387.4" cy="602.7" r="0.4" fill="#888"/>
<circle cx="433.9" cy="604.6" r="0.5" fill="#999"/>
<circle cx="402.3" cy="602.5" r="1.1" fill="#bbb"/>
<circle cx="462.1" cy="602.8" r="0.5" fill="#888"/>
<circle cx="337.7" cy="600.1" r="0.5" fill="#777"/>
<circle cx="405.6" cy="611.4" r="0.4" fill="#777"/>
<circle cx="454.3" cy="602.5" r="1.1" fill="#888"/>
<circle cx="441.5" cy="598.9" r="0.7" fill="#999"/>
<circle cx="427.1" cy="604.6" r="0.5" fill="#777"/>
<circle cx="433.8" cy="602.3" r="1.1" fill="#777"/>
<circle cx="378.1" cy="608.9" r="0.4" fill="#999"/>
<circle cx="326.0" cy="612.9" r="0.4" fill="#aaa"/>
<circle cx="399.9" cy="604.4" r="1.1" fill="#aaa"/>
<circle cx="403.4" cy="606.5" r="0.7" fill="#999"/>
<circle cx="459.1" cy="599.5" r="0.9" fill="#aaa"/>
<circle cx="302.6" cy="609.8" r="1.1" fill="#999"/>
<circle cx="316.5" cy="609.0" r="0.5" fill="#777"/>
<circle cx="467.5" cy="600.1" r="0.5" fill="#888"/>
<circle cx="341.9" cy="601.7" r="0.5" fill="#ccc"/>
<circle cx="354.6" cy="605.7" r="0.5" fill="#888"/>
<circle cx="454.4" cy="602.7" r="0.7" fill="#999"/>
<circle cx="398.6" cy="611.5" r="0.7" fill="#ccc"/>
<circle cx="321.2" cy="599.4" r="0.9" fill="#888"/>
<circle cx="448.1" cy="609.4" r="0.9" fill="#888"/>
<circle cx="431.5" cy="599.4" r="0.5" fill="#777"/>
<circle cx="404.7" cy="598.9" r="0.4" fill="#bbb"/>
<circle cx="415.5" cy="605.5" r="0.7" fill="#888"/>
<circle cx="449.8" cy="597.9" r="0.5" fill="#bbb"/>
<circle cx="306.1" cy="598.6" r="0.7" fill="#ccc"/>
<circle cx="303.7" cy="611.3" r="0.4" fill="#777"/>
<circle cx="354.5" cy="612.6" r="0.9" fill="#ccc"/>
<circle cx="333.0" cy="601.4" r="0.9" fill="#ccc"/>
<circle cx="436.9" cy="605.1" r="0.5" fill="#999"/>
<circle cx="388.3" cy="611.0" r="0.6" fill="#ccc"/>
<circle cx="451.5" cy="600.2" r="0.7" fill="#aaa"/>
<circle cx="370.1" cy="603.3" r="0.6" fill="#888"/>
<circle cx="413.6" cy="603.9" r="0.5" fill="#999"/>
<circle cx="350.6" cy="599.0" r="0.5" fill="#999"/>
<circle cx="408.9" cy="602.9" r="0.6" fill="#aaa"/>
<circle cx="464.3" cy="600.5" r="0.4" fill="#777"/>
<circle cx="450.1" cy="599.6" r="1.1" fill="#aaa"/>
<circle cx="326.5" cy="603.9" r="0.9" fill="#777"/>
<circle cx="356.9" cy="600.1" r="0.6" fill="#888"/>
<circle cx="422.3" cy="597.3" r="0.9" fill="#777"/>
<circle cx="374.2" cy="597.3" r="0.6" fill="#ccc"/>
<circle cx="405.5" cy="605.2" r="0.4" fill="#888"/>
<circle cx="467.3" cy="609.6" r="0.4" fill="#888"/>
<circle cx="344.3" cy="597.6" r="0.5" fill="#bbb"/>
<circle cx="428.1" cy="610.1" r="1.1" fill="#bbb"/>
<circle cx="368.3" cy="605.6" r="0.9" fill="#ccc"/>
<circle cx="383.4" cy="602.2" r="0.6" fill="#888"/>
<circle cx="435.5" cy="599.9" r="0.4" fill="#bbb"/>
<circle cx="459.3" cy="607.2" r="0.6" fill="#888"/>
<circle cx="402.8" cy="600.6" r="0.6" fill="#888"/>
<circle cx="376.4" cy="602.4" r="0.9" fill="#777"/>
<circle cx="457.3" cy="601.3" r="0.5" fill="#888"/>
<circle cx="388.9" cy="600.8" r="0.4" fill="#aaa"/>
<circle cx="343.7" cy="599.9" r="0.6" fill="#999"/>
<circle cx="351.0" cy="609.2" r="0.6" fill="#777"/>
<circle cx="384.4" cy="599.8" r="0.6" fill="#888"/>
<circle cx="468.9" cy="597.6" r="0.4" fill="#999"/>
<circle cx="385.3" cy="612.6" r="0.9" fill="#777"/>
<circle cx="340.9" cy="604.2" r="1.1" fill="#999"/>
<circle cx="372.8" cy="604.9" r="0.7" fill="#ccc"/>
<circle cx="351.5" cy="600.4" r="0.5" fill="#bbb"/>
<circle cx="332.8" cy="611.1" r="1.1" fill="#999"/>
<circle cx="322.8" cy="612.8" r="0.4" fill="#aaa"/>
<circle cx="301.3" cy="607.0" r="0.6" fill="#777"/>
<circle cx="326.8" cy="598.4" r="0.7" fill="#ccc"/>
<circle cx="413.5" cy="601.5" r="0.5" fill="#999"/>
<circle cx="349.0" cy="604.4" r="0.5" fill="#bbb"/>
<circle cx="375.1" cy="601.2" r="0.6" fill="#ccc"/>
<circle cx="354.2" cy="597.6" r="0.6" fill="#aaa"/>
<circle cx="359.8" cy="597.0" r="0.7" fill="#888"/>
<circle cx="380.0" cy="605.0" r="0.5" fill="#aaa"/>
<circle cx="385.2" cy="597.1" r="0.6" fill="#888"/>
<circle cx="323.5" cy="606.4" r="0.7" fill="#888"/>
<circle cx="350.1" cy="607.1" r="0.4" fill="#ccc"/>
<circle cx="462.6" cy="610.7" r="0.5" fill="#999"/>
<circle cx="451.5" cy="609.5" r="0.9" fill="#777"/>
<circle cx="429.5" cy="608.5" r="0.7" fill="#aaa"/>
<circle cx="347.5" cy="606.9" r="0.5" fill="#888"/>
<circle cx="439.9" cy="608.4" r="0.9" fill="#999"/>
<circle cx="372.3" cy="608.2" r="0.9" fill="#aaa"/>
<circle cx="454.4" cy="609.0" r="0.9" fill="#888"/>
<circle cx="440.1" cy="606.3" r="1.1" fill="#999"/>
<circle cx="462.3" cy="607.3" r="0.4" fill="#888"/>
<circle cx="306.1" cy="607.2" r="0.4" fill="#777"/>
<circle cx="441.7" cy="605.9" r="1.1" fill="#888"/>
<circle cx="405.9" cy="607.9" r="0.7" fill="#bbb"/>
<circle cx="299.5" cy="609.8" r="1.1" fill="#ccc"/>
<circle cx="452.3" cy="598.5" r="0.9" fill="#888"/>
<circle cx="426.3" cy="604.6" r="0.4" fill="#bbb"/>
<circle cx="339.0" cy="609.1" r="0.5" fill="#999"/>
<circle cx="410.0" cy="604.4" r="0.7" fill="#888"/>
<circle cx="380.8" cy="607.9" r="0.4" fill="#ccc"/>
<circle cx="407.0" cy="600.2" r="0.9" fill="#aaa"/>
<circle cx="355.6" cy="607.4" r="1.1" fill="#bbb"/>
<circle cx="405.1" cy="599.1" r="0.7" fill="#888"/>
<circle cx="381.9" cy="612.6" r="0.4" fill="#999"/>
<circle cx="336.1" cy="604.8" r="1.1" fill="#ccc"/>
<circle cx="347.7" cy="604.5" r="0.4" fill="#ccc"/>
<circle cx="333.0" cy="612.7" r="0.7" fill="#888"/>
<circle cx="348.4" cy="598.2" r="0.9" fill="#777"/>
<circle cx="468.8" cy="603.2" r="0.5" fill="#888"/>
<circle cx="398.3" cy="599.3" r="0.9" fill="#bbb"/>
<circle cx="461.7" cy="599.1" r="1.1" fill="#ccc"/>
<circle cx="346.7" cy="598.8" r="0.6" fill="#aaa"/>
<circle cx="384.0" cy="611.0" r="0.7" fill="#888"/>
<circle cx="326.1" cy="612.2" r="1.1" fill="#777"/>
<circle cx="368.2" cy="608.6" r="0.7" fill="#bbb"/>
<circle cx="363.2" cy="598.9" r="0.6" fill="#888"/>
<circle cx="354.4" cy="602.4" r="0.7" fill="#888"/>
<circle cx="459.5" cy="600.1" r="0.4" fill="#999"/>
<circle cx="348.4" cy="603.0" r="0.7" fill="#777"/>
<circle cx="469.6" cy="606.4" r="0.6" fill="#777"/>
<circle cx="428.0" cy="610.7" r="0.6" fill="#888"/>
<circle cx="307.7" cy="607.6" r="1.1" fill="#aaa"/>
<circle cx="341.5" cy="601.3" r="0.9" fill="#bbb"/>
<circle cx="331.3" cy="603.0" r="0.7" fill="#888"/>
<circle cx="437.7" cy="607.1" r="0.9" fill="#ccc"/>
<circle cx="333.7" cy="598.3" r="1.1" fill="#777"/>
<circle cx="376.0" cy="609.0" r="1.1" fill="#bbb"/>
<circle cx="381.9" cy="611.6" r="0.9" fill="#aaa"/>
<circle cx="328.1" cy="603.6" r="0.6" fill="#bbb"/>
<circle cx="342.6" cy="608.8" r="1.1" fill="#bbb"/>
<circle cx="368.3" cy="600.8" r="0.7" fill="#ccc"/>
<circle cx="413.2" cy="598.9" r="1.1" fill="#aaa"/>
<circle cx="311.7" cy="605.0" r="0.7" fill="#ccc"/>
<circle cx="336.5" cy="611.5" r="0.7" fill="#777"/>
<circle cx="322.8" cy="600.1" r="0.4" fill="#aaa"/>
<circle cx="357.3" cy="598.5" r="0.5" fill="#bbb"/>
<circle cx="343.1" cy="606.1" r="0.4" fill="#999"/>
<circle cx="447.7" cy="603.1" r="1.1" fill="#ccc"/>
<circle cx="334.8" cy="601.3" r="0.4" fill="#777"/>
<circle cx="346.3" cy="612.5" r="0.5" fill="#999"/>
<circle cx="384.9" cy="607.1" r="0.5" fill="#888"/>
<circle cx="345.2" cy="601.0" r="0.7" fill="#999"/>
<circle cx="375.1" cy="612.3" r="0.4" fill="#aaa"/>
<circle cx="304.4" cy="608.4" r="0.7" fill="#ccc"/>
<circle cx="382.6" cy="598.2" r="0.9" fill="#777"/>
<circle cx="465.1" cy="601.0" r="0.4" fill="#aaa"/>
<circle cx="325.3" cy="605.4" r="1.1" fill="#888"/>
<circle cx="459.8" cy="608.5" r="1.1" fill="#777"/>
<circle cx="313.4" cy="609.4" r="0.4" fill="#aaa"/>
<circle cx="338.6" cy="611.7" r="1.1" fill="#999"/>
<circle cx="350.8" cy="599.0" r="0.6" fill="#ccc"/>
<circle cx="407.6" cy="608.2" r="0.4" fill="#888"/>
<circle cx="310.9" cy="605.4" r="0.9" fill="#aaa"/>
<circle cx="365.2" cy="600.6" r="0.9" fill="#888"/>
<circle cx="300.7" cy="601.8" r="0.7" fill="#bbb"/>
<circle cx="462.8" cy="607.3" r="0.5" fill="#777"/>
<circle cx="388.8" cy="605.8" r="0.4" fill="#777"/>
<circle cx="419.3" cy="601.9" r="0.4" fill="#aaa"/>
<circle cx="384.1" cy="607.8" r="0.7" fill="#888"/>
<circle cx="342.9" cy="607.7" r="0.6" fill="#aaa"/>
<line x1="297.9" y1="595.5" x2="470.8" y2="595.5" stroke="#1c1c1c" stroke-width="1.1"/>
<line x1="297.9" y1="614.5" x2="470.8" y2="614.5" stroke="#1c1c1c" stroke-width="1.1"/>
<line x1="297.9" y1="622.5" x2="470.8" y2="622.5" stroke="#1c1c1c" stroke-width="1.1"/>
<line x1="272.9" y1="676.5" x2="290.4" y2="676.5" stroke="#1c1c1c" stroke-width="1.0"/>
<line x1="297.9" y1="676.5" x2="327" y2="676.5" stroke="#1c1c1c" stroke-width="1.0"/>
<line x1="336.5" y1="676.5" x2="349.5" y2="676.5" stroke="#1c1c1c" stroke-width="1.0"/>
<line x1="356" y1="676.5" x2="412.5" y2="676.5" stroke="#1c1c1c" stroke-width="1.0"/>
<line x1="422" y1="676.5" x2="433.5" y2="676.5" stroke="#1c1c1c" stroke-width="1.0"/>
<line x1="441.5" y1="676.5" x2="470.8" y2="676.5" stroke="#1c1c1c" stroke-width="1.0"/>
<text x="384" y="691.10" font-size="12" text-anchor="middle">W. SOLANO DR.</text>
<rect x="195.3" y="783" width="154.1" height="9.6" fill="#fff" stroke="#1c1c1c" stroke-width="0.9"/>
<rect x="195.3" y="783" width="19.4" height="4.8" fill="#1c1c1c"/>
<rect x="214.7" y="787.8" width="19.3" height="4.8" fill="#1c1c1c"/>
<rect x="234" y="783" width="19.0" height="4.8" fill="#1c1c1c"/>
<rect x="253" y="787.8" width="19.4" height="4.8" fill="#1c1c1c"/>
<rect x="272.4" y="783" width="38.7" height="4.8" fill="#1c1c1c"/>
<rect x="311.1" y="787.8" width="38.3" height="4.8" fill="#1c1c1c"/>
<text x="195.3" y="778.77" font-size="6.9" text-anchor="middle" font-weight="bold" textLength="4.4" lengthAdjust="spacingAndGlyphs">0</text>
<text x="272.7" y="778.77" font-size="6.9" text-anchor="middle" font-weight="bold" textLength="8.8" lengthAdjust="spacingAndGlyphs">20</text>
<text x="349.2" y="778.77" font-size="6.9" text-anchor="middle" font-weight="bold" textLength="8.8" lengthAdjust="spacingAndGlyphs">40</text>
<text x="237.1" y="803.43" font-size="6.8" font-weight="bold" xml:space="preserve" textLength="68.2" lengthAdjust="spacing">SCALE:  1"=20'-0"</text>
<line x1="381" y1="762.5" x2="612.4" y2="762.5" stroke="#1c1c1c" stroke-width="1.1"/>
<line x1="381.5" y1="762.6" x2="381.5" y2="817" stroke="#1c1c1c" stroke-width="1.1"/>
<g fill="#2a3a4e"><rect x="410.5" y="768.1" width="20" height="4.3"/><rect x="418.6" y="768.1" width="4.9" height="27"/><rect x="429" y="768.1" width="4.8" height="27"/><path d="M430.5 768.1 H436.8 L443.7 786.2 L450.6 768.1 H456.5 L446.2 795.1 H441.2 Z"/><path d="M453.8 768.1 H465 C474 768.1 478.7 774 478.7 781.6 C478.7 789.2 474 795.1 465 795.1 H453.8 Z M458.8 772.5 V790.7 H464.6 C470.6 790.7 473.6 786.9 473.6 781.6 C473.6 776.3 470.6 772.5 464.6 772.5 Z" fill-rule="evenodd"/></g>
<path d="M438.3 768.1 H449.2 L443.7 777 Z" fill="#8f959b"/>
<text x="387" y="810.16" font-size="6.6" font-weight="bold" style="fill:#868d95;" letter-spacing="3.78">DESIGN SERVICES</text>
<text x="504.7" y="778.24" font-size="8.2" style="fill:#222;">6635 W. Happy Valley Road</text>
<text x="504.7" y="787.94" font-size="8.2" style="fill:#222;">Suite A-104-438</text>
<text x="504.7" y="797.64" font-size="8.2" style="fill:#222;">Glendale, AZ 85310</text>
<text x="504.7" y="807.34" font-size="8.2" style="fill:#222;">(602) 882-5419</text>
<path d="M569 736.5 L586 753.5 L594 745.5 L588 736.5 Z" fill="#bdf0b4"/>
<circle cx="586" cy="736.5" r="17" fill="none" stroke="#1c1c1c" stroke-width="1"/>
<line x1="569" y1="736.5" x2="603" y2="736.5" stroke="#1c1c1c" stroke-width="0.8"/>
<line x1="569.5" y1="738" x2="586" y2="753.5" stroke="#1c1c1c" stroke-width="0.7"/>
<line x1="602.5" y1="738" x2="586" y2="753.5" stroke="#1c1c1c" stroke-width="0.7"/>
<g fill="#111"><rect x="576.6" y="723.2" width="1.7" height="26.6"/><rect x="572.8" y="722.8" width="8" height="1.1"/><rect x="572.5" y="749.3" width="9.5" height="1.1"/><path d="M575.8 722.8 H582.2 L595.8 744.6 V750.6 H594.2 L576.6 725 Z"/><rect x="594.3" y="723.2" width="1.5" height="27"/><rect x="590.8" y="722.8" width="9.2" height="1.1"/></g>
<text x="617.3" y="824.10" font-size="5.3" text-anchor="end" style="fill:#444;">12/23/2025 1:26:04 PM</text>
<text x="5.2" y="794.2" font-size="25.6" style="font-family:Liberation Serif;font-weight:bold;fill:#fff;stroke:#fff;stroke-width:1.8px;stroke-opacity:0.9" textLength="49" lengthAdjust="spacingAndGlyphs">2026</text>
<text x="65.8" y="794.2" font-size="25.6" style="font-family:Liberation Serif;font-weight:bold;fill:#fff;stroke:#fff;stroke-width:1.8px;stroke-opacity:0.9" textLength="73.2" lengthAdjust="spacingAndGlyphs">ARMLS</text>
<text x="5.2" y="794.2" font-size="25.6" style="font-family:Liberation Serif;font-weight:bold;fill:#141414;stroke:#fff;stroke-width:0.75px" textLength="49" lengthAdjust="spacingAndGlyphs">2026</text>
<text x="65.8" y="794.2" font-size="25.6" style="font-family:Liberation Serif;font-weight:bold;fill:#141414;stroke:#fff;stroke-width:0.75px" textLength="73.2" lengthAdjust="spacingAndGlyphs">ARMLS</text>
</svg>
</body></html>
